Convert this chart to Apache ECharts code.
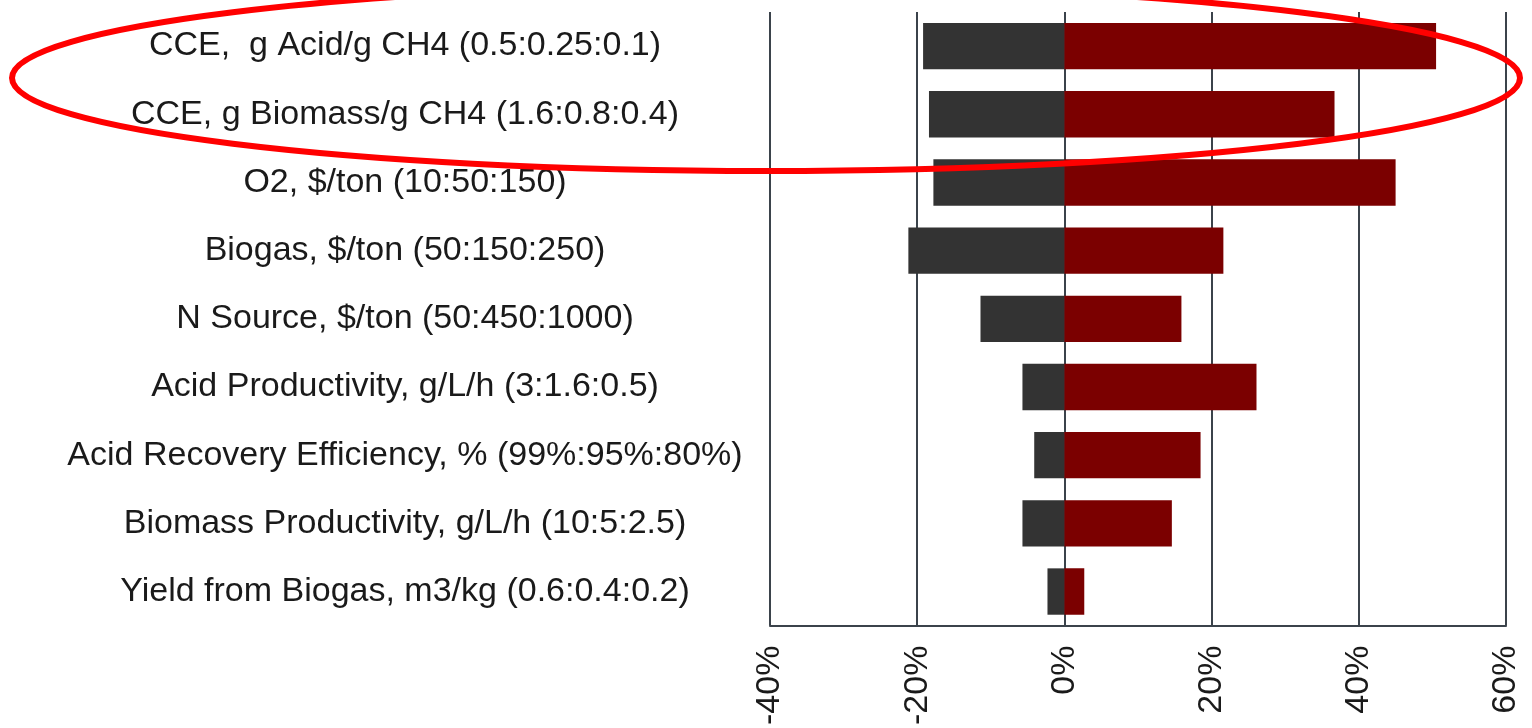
<!DOCTYPE html>
<html>
<head>
<meta charset="utf-8">
<script src="https://cdn.jsdelivr.net/npm/echarts@6/dist/echarts.min.js"></script>
<style>
html,body{margin:0;padding:0;background:#fff;}
#chart{width:1532px;height:728px;}
</style>
</head>
<body>
<div id="chart"></div>
<script>
var categories = [
  'CCE,  g Acid/g CH4 (0.5:0.25:0.1)',
  'CCE, g Biomass/g CH4 (1.6:0.8:0.4)',
  'O2, $/ton (10:50:150)',
  'Biogas, $/ton (50:150:250)',
  'N Source, $/ton (50:450:1000)',
  'Acid Productivity, g/L/h (3:1.6:0.5)',
  'Acid Recovery Efficiency, % (99%:95%:80%)',
  'Biomass Productivity, g/L/h (10:5:2.5)',
  'Yield from Biogas, m3/kg (0.6:0.4:0.2)'
];
var lowValues = [-19.2, -18.4, -17.8, -21.2, -11.4, -5.7, -4.1, -5.7, -2.3];
var highValues = [50.5, 36.7, 45.0, 21.6, 15.9, 26.1, 18.5, 14.6, 2.7];
var xTicks = [-40, -20, 0, 20, 40, 60];

var chart = echarts.init(document.getElementById('chart'));
var font = '"Liberation Sans", Arial, sans-serif';
chart.setOption({
  animation: false,
  backgroundColor: '#ffffff',
  grid: {left: 770, right: 26, top: 12, bottom: 101, containLabel: false},
  xAxis: {
    type: 'value',
    min: xTicks[0],
    max: xTicks[xTicks.length - 1],
    interval: 20,
    axisLine: {show: true, lineStyle: {color: '#3b434b', width: 2}},
    axisTick: {show: false},
    splitLine: {show: true, lineStyle: {color: '#3b434b', width: 2}},
    axisLabel: {
      rotate: 90,
      margin: 20,
      color: '#1a1a1a',
      fontSize: 34,
      fontFamily: font,
      formatter: function (v) { return v + '%'; }
    }
  },
  yAxis: {
    type: 'category',
    data: categories,
    inverse: true,
    axisLine: {show: false},
    axisTick: {show: false},
    splitLine: {show: false},
    axisLabel: {
      interval: 0,
      align: 'center',
      margin: 365,
      color: '#1a1a1a',
      fontSize: 34,
      fontFamily: font
    }
  },
  series: [
    {
      type: 'bar',
      data: lowValues,
      barWidth: '68%',
      barGap: '-100%',
      itemStyle: {color: '#333333'}
    },
    {
      type: 'bar',
      data: highValues,
      barWidth: '68%',
      barGap: '-100%',
      itemStyle: {color: '#7b0000'}
    }
  ],
  graphic: [
    {
      type: 'ellipse',
      z: 100,
      silent: true,
      shape: {cx: 766, cy: 78, rx: 754, ry: 93},
      style: {fill: 'none', stroke: '#ff0000', lineWidth: 6}
    }
  ]
});
</script>
</body>
</html>
